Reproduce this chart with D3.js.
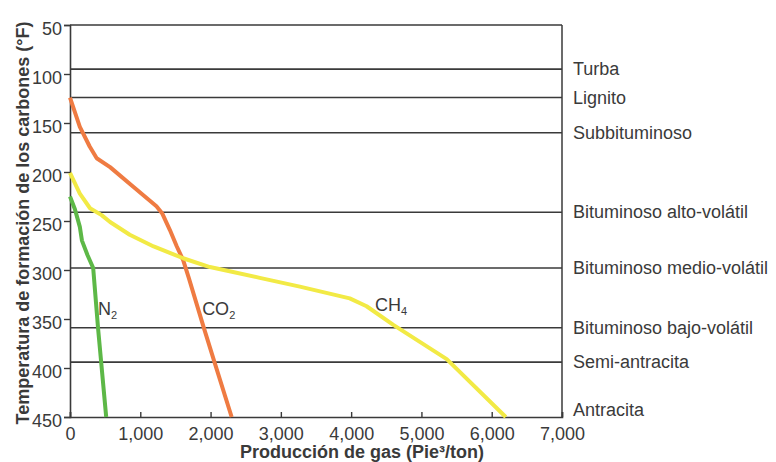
<!DOCTYPE html>
<html>
<head>
<meta charset="utf-8">
<script src="https://cdn.jsdelivr.net/npm/d3@7"></script>
<style>
  html, body { margin: 0; padding: 0; background: #fff; }
  svg text { font-family: "Liberation Sans", Arial, sans-serif; fill: #3a3a3a; }
</style>
</head>
<body>
<svg id="chart" width="776" height="462"></svg>
<script>
// Coal rank vs gas production (N2, CO2, CH4)

// rank bands (temperature °F where each rank line sits)
const rankNames = ['Turba', 'Lignito', 'Subbituminoso', 'Bituminoso alto-volátil',
  'Bituminoso medio-volátil', 'Bituminoso bajo-volátil', 'Semi-antracita', 'Antracita'];
const rankTemps = [95, 124, 160, 241, 298, 359, 394, 450];

// series: [gas production (ft3/ton), temperature (°F)]
const n2Data = [[0,225],[70,238],[140,256],[170,270],[250,285],[330,298],[400,360],[515,450]];
const co2Data = [[0,124],[140,154],[280,174],[380,186],[570,195],[900,215],[1230,235],[1310,242],
  [1420,259],[1520,276],[1610,290],[1690,308],[1900,358],[2060,395],[2300,450]];
const ch4Data = [[0,201],[140,222],[285,237],[450,244],[570,251],[850,264],[1190,276],[1610,288],
  [1990,297],[2320,302],[2700,308],[3270,317],[3980,329],[4220,337],[4600,356],[5360,391],[6200,450]];

// curve labels anchored in data units: [x, temperature]
const seriesNames = ['N', 'CO', 'CH'];
const seriesSubs = ['2', '2', '4'];
const labelAnchors = [[400, 346], [1880, 346], [4340, 342]];

const xTicks = [0, 1000, 2000, 3000, 4000, 5000, 6000, 7000];
const yTicks = [50, 100, 150, 200, 250, 300, 350, 400, 450];

(function(){
  const svg = d3.select('#chart');
  const left = 70, right = 562, top = 25, bottom = 417;

  const x = d3.scaleLinear().domain([0, 7000]).range([left, right]);
  const y = d3.scaleLinear().domain([50, 450]).range([top, bottom]);

  const ink = '#3a3a3a';

  // frame: top + right border
  svg.append('line').attr('x1', left).attr('x2', right).attr('y1', top).attr('y2', top)
    .attr('stroke', ink).attr('stroke-width', 1.5);
  svg.append('line').attr('x1', right).attr('x2', right).attr('y1', top).attr('y2', bottom)
    .attr('stroke', ink).attr('stroke-width', 1.5);

  // rank lines
  svg.append('g').selectAll('line')
    .data(rankTemps.slice(0, -1))
    .enter().append('line')
    .attr('x1', left).attr('x2', right)
    .attr('y1', d => y(d)).attr('y2', d => y(d))
    .attr('stroke', ink).attr('stroke-width', 1.6);

  // rank labels on the right
  svg.append('g').selectAll('text')
    .data(rankNames)
    .enter().append('text')
    .attr('x', 573)
    .attr('y', (d, i) => y(rankTemps[i]) + (i === rankNames.length - 1 ? -7 : 0))
    .attr('dy', '0.35em')
    .attr('font-size', 18)
    .text(d => d);

  // axes
  const yAxis = svg.append('g')
    .attr('transform', `translate(${left},0)`)
    .call(d3.axisLeft(y).tickValues(yTicks).tickSize(6).tickPadding(2));
  const xAxis = svg.append('g')
    .attr('transform', `translate(0,${bottom})`)
    .call(d3.axisBottom(x).tickValues(xTicks).tickSize(-5).tickPadding(10).tickFormat(d3.format(',')));

  [yAxis, xAxis].forEach(a => {
    a.select('.domain').attr('stroke', ink).attr('stroke-width', 1.6);
    a.selectAll('.tick line').attr('stroke', ink).attr('stroke-width', 1.4);
    a.selectAll('.tick text').attr('font-size', 18).attr('fill', '#3a3a3a')
      .style('font-family', '"Liberation Sans", Arial, sans-serif');
  });
  yAxis.selectAll('.tick text').attr('dy', '0.5em');

  // gas curves
  const line = d3.line().x(d => x(d[0])).y(d => y(d[1]));
  const series = [
    { data: n2Data, color: '#5db847' },
    { data: co2Data, color: '#ef7b42' },
    { data: ch4Data, color: '#f2ea45' }
  ];
  svg.append('g').selectAll('path')
    .data(series)
    .enter().append('path')
    .attr('d', d => line(d.data))
    .attr('fill', 'none')
    .attr('stroke', d => d.color)
    .attr('stroke-width', 4)
    .attr('stroke-linejoin', 'round');

  // curve labels with subscripts
  const lbl = svg.append('g').selectAll('text')
    .data(seriesNames)
    .enter().append('text')
    .attr('x', (d, i) => x(labelAnchors[i][0]))
    .attr('y', (d, i) => y(labelAnchors[i][1]))
    .attr('font-size', 18);
  lbl.append('tspan').text(d => d);
  lbl.append('tspan').attr('font-size', 11).attr('dy', 4).text((d, i) => seriesSubs[i]);

  // axis titles
  svg.append('text')
    .attr('transform', `translate(29,${(top + bottom) / 2 + 2}) rotate(-90)`)
    .attr('text-anchor', 'middle')
    .attr('font-size', 18).attr('font-weight', 'bold')
    .text('Temperatura de formación de los carbones (°F)');
  svg.append('text')
    .attr('x', 362).attr('y', 458)
    .attr('text-anchor', 'middle')
    .attr('font-size', 18).attr('font-weight', 'bold')
    .text('Producción de gas (Pie³/ton)');
})();
</script>
</body>
</html>
